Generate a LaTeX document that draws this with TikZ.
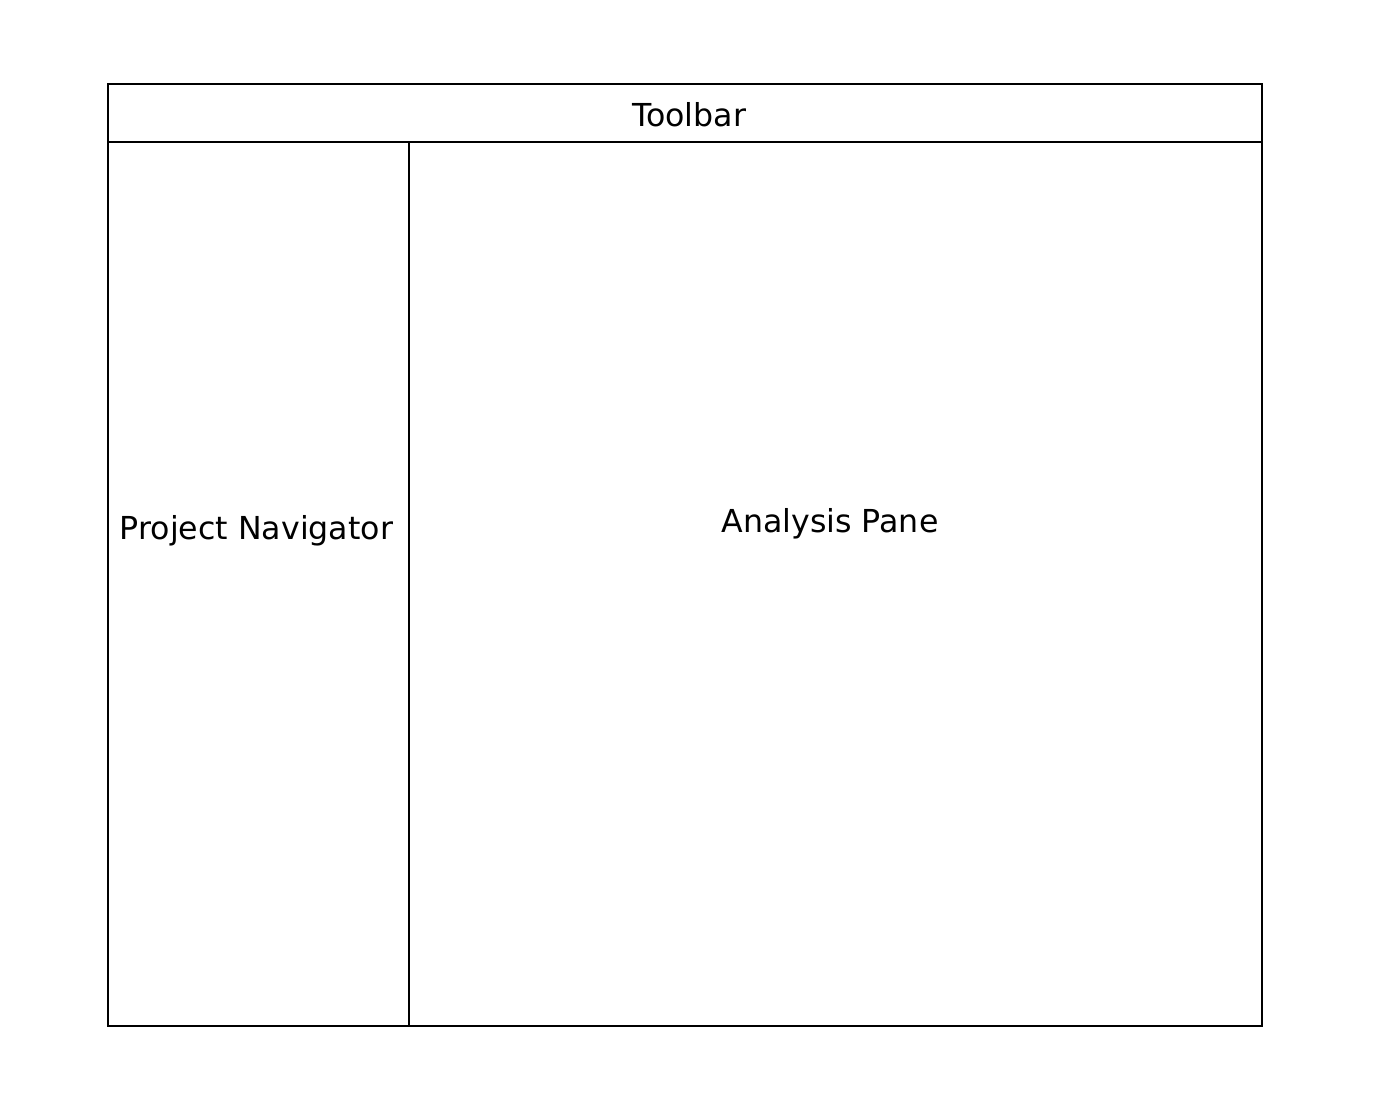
\documentclass[tikz,border=0pt]{standalone}
\usepackage{fontspec}
\setmainfont{DejaVu Sans}
\newcommand{\pane}[5]{\node[draw,rectangle,line width=0.6pt,inner sep=0pt,minimum width=#4cm,minimum height=#5cm] (#1) at (#2,#3) {};}
\newcommand{\panelabel}[4]{\node[font=\fontsize{9}{11}\selectfont] (#1) at (#2,#3) {#4};}

\begin{document}
\begin{tikzpicture}
    \useasboundingbox (0,0) rectangle (13.79,11.10);
    \pane{toolbar}{6.85}{9.97}{11.54}{0.58}
    \pane{navigator}{2.585}{5.26}{3.01}{8.84}
    \pane{analysis}{8.355}{5.26}{8.53}{8.84}
    \panelabel{toolbartext}{6.89}{9.955}{Toolbar}
    \panelabel{navigatortext}{2.565}{5.79}{Project Navigator}
    \panelabel{analysistext}{8.30}{5.86}{Analysis Pane}
\end{tikzpicture}
\end{document}
